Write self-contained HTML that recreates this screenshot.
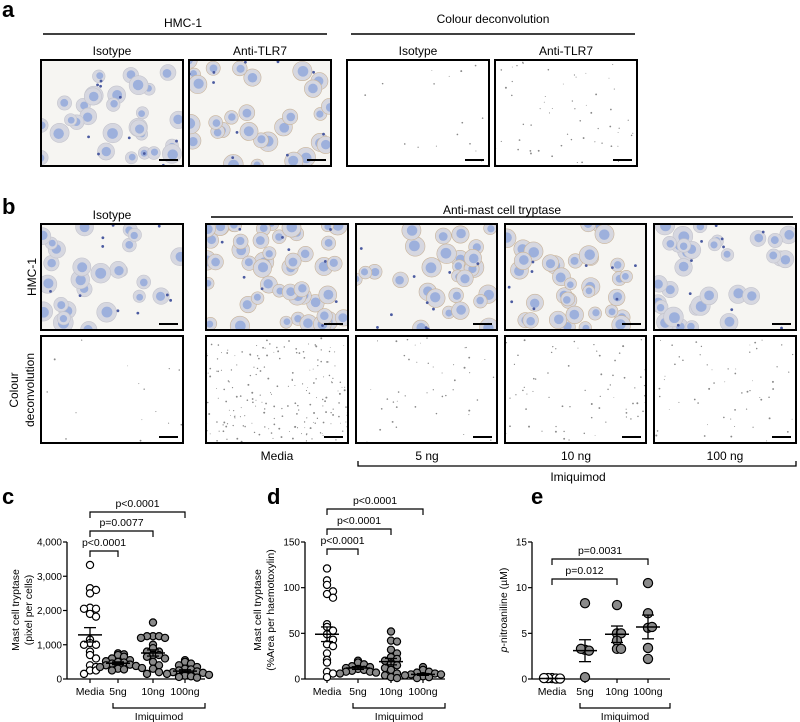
<!DOCTYPE html>
<html><head><meta charset="utf-8"><style>
html,body{margin:0;padding:0;background:#fff;}
body{width:800px;height:722px;position:relative;overflow:hidden;font-family:"Liberation Sans",Arial,sans-serif;}
svg{position:absolute;left:0;top:0;}
</style></head><body>
<svg id="fig" width="800" height="722" viewBox="0 0 800 722" font-family="Liberation Sans, Arial, sans-serif">
<g id="static">
<text x="2" y="17" font-size="22" font-weight="bold">a</text>
<text x="183" y="27" font-size="12" text-anchor="middle">HMC-1</text>
<line x1="43" y1="34" x2="327" y2="34" stroke="#000" stroke-width="1.5"/>
<text x="493" y="23" font-size="12" text-anchor="middle">Colour deconvolution</text>
<line x1="351" y1="34" x2="635" y2="34" stroke="#000" stroke-width="1.5"/>
<text x="112" y="55" font-size="12" text-anchor="middle">Isotype</text>
<text x="260" y="55" font-size="12" text-anchor="middle">Anti-TLR7</text>
<text x="418" y="55" font-size="12" text-anchor="middle">Isotype</text>
<text x="566" y="55" font-size="12" text-anchor="middle">Anti-TLR7</text>

<text x="2" y="214" font-size="22" font-weight="bold">b</text>
<text x="112" y="219" font-size="12" text-anchor="middle">Isotype</text>
<text x="502" y="214" font-size="12" text-anchor="middle">Anti-mast cell tryptase</text>
<line x1="211" y1="217" x2="793" y2="217" stroke="#000" stroke-width="1.5"/>
<text transform="translate(36,277) rotate(-90)" font-size="12" text-anchor="middle">HMC-1</text>
<text transform="translate(18,390) rotate(-90)" font-size="12" text-anchor="middle">Colour</text>
<text transform="translate(34,390) rotate(-90)" font-size="12" text-anchor="middle">deconvolution</text>
<text x="277" y="460" font-size="12" text-anchor="middle">Media</text>
<text x="427" y="460" font-size="12" text-anchor="middle">5 ng</text>
<text x="576" y="460" font-size="12" text-anchor="middle">10 ng</text>
<text x="725" y="460" font-size="12" text-anchor="middle">100 ng</text>
<path d="M358 461 V466 H796 V461" fill="none" stroke="#000" stroke-width="1.3"/>
<text x="578" y="481" font-size="12" text-anchor="middle">Imiquimod</text>

<text x="2" y="504" font-size="22" font-weight="bold">c</text>
<text x="267" y="504" font-size="22" font-weight="bold">d</text>
<text x="531" y="504" font-size="22" font-weight="bold">e</text>
</g>
<g id="images"></g>
<g id="charts"></g>
</svg>
<script>
// ---------- chart data ----------
const categories = ["Media","5ng","10ng","100ng"];
const cMedia = [3330,2650,2600,2500,2080,2050,2050,1900,1820,1150,1050,1000,1000,800,700,600,400,350,250,250,150];
const c5ng = [750,720,700,650,600,550,520,500,480,450,420,400,380,350,320,300,280,250];
const c10ng = [1650,1250,1250,1250,1200,1200,1000,900,800,800,700,700,650,600,500,400,300,200,150];
const c100ng = [550,500,450,400,350,300,280,250,220,200,180,150,120,100,80,60,40];
const cMean = [1290,460,760,230];
const cSem = [210,40,90,40];
const cTicks = [0,1000,2000,3000,4000];
const cTickLabels = ["0","1,000","2,000","3,000","4,000"];
const cPvals = ["p<0.0001","p=0.0077","p<0.0001"];

const dMedia = [121,108,103,96,93,89,60,57,53,49,43,38,36,28,21,18,8,6,2];
const d5ng = [20,18,16,14,13,12,11,10,9,8,8,7,6];
const d10ng = [52,42,41,32,28,24,22,20,17,15,12,10,6,4,2,1];
const d100ng = [13,10,8,7,6,5,5,4,3,2,1];
const dMean = [49,12,19,5];
const dSem = [8,1.5,3.5,1];
const dTicks = [0,50,100,150];
const dPvals = ["p<0.0001","p<0.0001","p<0.0001"];

const eMedia = [0.1,0.05,0.1,0.05,0.1];
const e5ng = [8.3,3.2,3.1,3.3,0.2];
const e10ng = [8.1,5.0,5.0,4.2,3.3,3.3];
const e100ng = [10.5,7.2,5.6,5.7,3.4,2.2];
const eMean = [0.05,3.1,4.9,5.7];
const eSem = [0.02,1.2,0.9,1.3];
const eTicks = [0,5,10,15];
const ePvals = ["p=0.0031","p=0.012"];

const NS="http://www.w3.org/2000/svg";
function mk(tag,attrs,parent){const e=document.createElementNS(NS,tag);for(const k in attrs)e.setAttribute(k,attrs[k]);parent.appendChild(e);return e;}

// ---------- micrographs (decorative texture) ----------
const imgG=document.getElementById('images');
let seed=7;function rnd(){seed=(seed*16807)%2147483647;return (seed-1)/2147483646;}
const boxes=[
 [41,60,183,166,'cell',0.9,false],[189,60,331,166,'cell',0.9,true],
 [347,60,489,166,'dots',0.05,false],[495,60,637,166,'dots',0.4,false],
 [41,224,183,330,'cell',0.8,false],[206,224,348,330,'cell',1.5,true],[356,224,497,330,'cell',0.9,true],[505,224,646,330,'cell',1.1,true],[654,224,796,330,'cell',1.1,false],
 [41,336,183,443,'dots',0.05,false],[206,336,348,443,'dots',1.6,false],[356,336,497,443,'dots',0.3,false],[505,336,646,443,'dots',0.5,false],[654,336,796,443,'dots',0.4,false]
];
boxes.forEach((b,i)=>{
 const g=mk('g',{},imgG);
 
 
 const cid='clip'+i;
 const cp=mk('clipPath',{id:cid},g);mk('rect',{x:b[0],y:b[1],width:b[2]-b[0],height:b[3]-b[1]},cp);
 mk('rect',{x:b[0],y:b[1],width:b[2]-b[0],height:b[3]-b[1],fill:b[4]=='cell'?'#f6f5f2':'#ffffff'},g);
 const inner=mk('g',{'clip-path':'url(#'+cid+')'},g);
 const w=b[2]-b[0],h=b[3]-b[1];
 if(b[4]=='cell'){
  const n=Math.round(32*b[5]);
  for(let k=0;k<n;k++){
   const cx=b[0]+rnd()*w,cy=b[1]+rnd()*h,r=6+rnd()*4;
   mk('circle',{cx:cx,cy:cy,r:r,fill:'#d6d7e0',stroke:b[6]?'#c9b49a':'#c4c4cc','stroke-width':0.6},inner);
   mk('circle',{cx:cx+rnd()*2-1,cy:cy+rnd()*2-1,r:r*0.55,fill:'#9db0dc'},inner);
  }
  for(let k=0;k<10;k++){mk('circle',{cx:b[0]+rnd()*w,cy:b[1]+rnd()*h,r:1.4,fill:'#4a5aa0'},inner);}
 } else {
  const n=Math.round(120*b[5])+10;
  for(let k=0;k<n;k++){mk('circle',{cx:b[0]+rnd()*w,cy:b[1]+rnd()*h,r:0.4+rnd()*0.6,fill:'#888'},inner);}
 }
 mk('rect',{x:b[0],y:b[1],width:w,height:h,fill:'none',stroke:'#000','stroke-width':2},g);
 mk('rect',{x:b[2]-24,y:b[3]-7,width:19,height:2,fill:'#000'},g);
});

// ---------- dot plots ----------
const chartsG=document.getElementById('charts');
function plot(cfg){
 const g=mk('g',{},chartsG);
 
 
 const y0=679,y1=542;
 const yS=v=>y0-(v-cfg.ticks[0])/(cfg.ticks[cfg.ticks.length-1]-cfg.ticks[0])*(y0-y1);
 const xS=i=>cfg.xs[i];
 mk('line',{x1:cfg.ax,y1:y1,x2:cfg.ax,y2:y0,stroke:'#000','stroke-width':1.3},g);
 mk('line',{x1:cfg.ax,y1:y0,x2:cfg.xend,y2:y0,stroke:'#000','stroke-width':1.3},g);
 cfg.ticks.forEach((t,i)=>{
  mk('line',{x1:cfg.ax-4,y1:yS(t),x2:cfg.ax,y2:yS(t),stroke:'#000','stroke-width':1.2},g);
  const tx=mk('text',{x:cfg.ax-5,y:yS(t)+3.5,'font-size':10,'text-anchor':'end'},g);
  
  
  tx.textContent=cfg.tickLabels[i];
 });
 const yt=mk('text',{transform:`translate(${cfg.tx},610) rotate(-90)`,'font-size':10.5,'text-anchor':'middle'},g);
 
 
 cfg.ytitle.forEach((l,i)=>{const ts=mk('tspan',{x:0,dy:i?13:0},yt);ts.innerHTML=l;});
 categories.forEach((c,i)=>{
  mk('line',{x1:xS(i),y1:y0,x2:xS(i),y2:y0+4,stroke:'#000','stroke-width':1.2},g);
  const tx=mk('text',{x:xS(i),y:y0+16,'font-size':10.5,'text-anchor':'middle'},g);
  
  
  tx.textContent=c;
  const vals=cfg.series[i];
  const bins={};
  vals.forEach(v=>{
   const key=Math.round(yS(v)/cfg.bin);bins[key]=(bins[key]||0)+1;const k=bins[key]-1;
   const off=(k%2?1:-1)*Math.ceil(k/2)*cfg.jit;
   const ci=mk('circle',{cx:xS(i)+off,cy:yS(v),r:cfg.r,fill:i==0?'#fff':'#8a8a8a',stroke:'#000','stroke-width':1.2},g);
   
   
  });
  const m=cfg.mean[i],s=cfg.sem[i];
  mk('line',{x1:xS(i)-12,y1:yS(m),x2:xS(i)+12,y2:yS(m),stroke:'#000','stroke-width':1.5},g);
  mk('line',{x1:xS(i),y1:yS(m-s),x2:xS(i),y2:yS(m+s),stroke:'#000','stroke-width':1.3},g);
  mk('line',{x1:xS(i)-6,y1:yS(m+s),x2:xS(i)+6,y2:yS(m+s),stroke:'#000','stroke-width':1.3},g);
  mk('line',{x1:xS(i)-6,y1:yS(m-s),x2:xS(i)+6,y2:yS(m-s),stroke:'#000','stroke-width':1.3},g);
 });
 cfg.brackets.forEach((br,j)=>{
  const by=br[1];
  const p=mk('path',{d:`M${xS(0)} ${by+6} V${by} H${xS(br[0])} V${by+6}`,fill:'none',stroke:'#000','stroke-width':1.2},g);
  
  
  const t=mk('text',{x:(xS(0)+xS(br[0]))/2,y:by-5,'font-size':10.5,'text-anchor':'middle'},g);
  
  
  t.textContent=cfg.pvals[j];
 });
 const ib=mk('path',{d:`M${cfg.xs[1]-5} 703 V708 H${cfg.xend} V703`,fill:'none',stroke:'#000','stroke-width':1.2},g);
 
 
 const it=mk('text',{x:(cfg.xs[1]-5+cfg.xend)/2,y:720,'font-size':10.5,'text-anchor':'middle'},g);
 
 
 it.textContent='Imiquimod';
}
plot({name:'chart-c',ax:67,xend:205,xs:[90,118,153,185],ticks:cTicks,tickLabels:cTickLabels,tx:19,
 series:[cMedia,c5ng,c10ng,c100ng],mean:cMean,sem:cSem,r:3.6,jit:6,bin:7,
 ytitle:['Mast cell tryptase','(pixel per cells)'],pvals:cPvals,brackets:[[3,512],[2,531],[1,551]]});
plot({name:'chart-d',ax:305,xend:445,xs:[327,358,391,423],ticks:dTicks,tickLabels:dTicks.map(String),tx:261,
 series:[dMedia,d5ng,d10ng,d100ng],mean:dMean,sem:dSem,r:3.6,jit:6,bin:7,
 ytitle:['Mast cell tryptase','(%Area per haemotoxylin)'],pvals:dPvals,brackets:[[3,509],[2,529],[1,549]]});
plot({name:'chart-e',ax:532,xend:670,xs:[552,585,617,648],ticks:eTicks,tickLabels:eTicks.map(String),tx:507,
 series:[eMedia,e5ng,e10ng,e100ng],mean:eMean,sem:eSem,r:4.6,jit:4,bin:7,
 ytitle:['<tspan font-style="italic">p</tspan>-nitroaniline (µM)'],pvals:ePvals,brackets:[[3,559],[2,579]]});
</script>
</body></html>
